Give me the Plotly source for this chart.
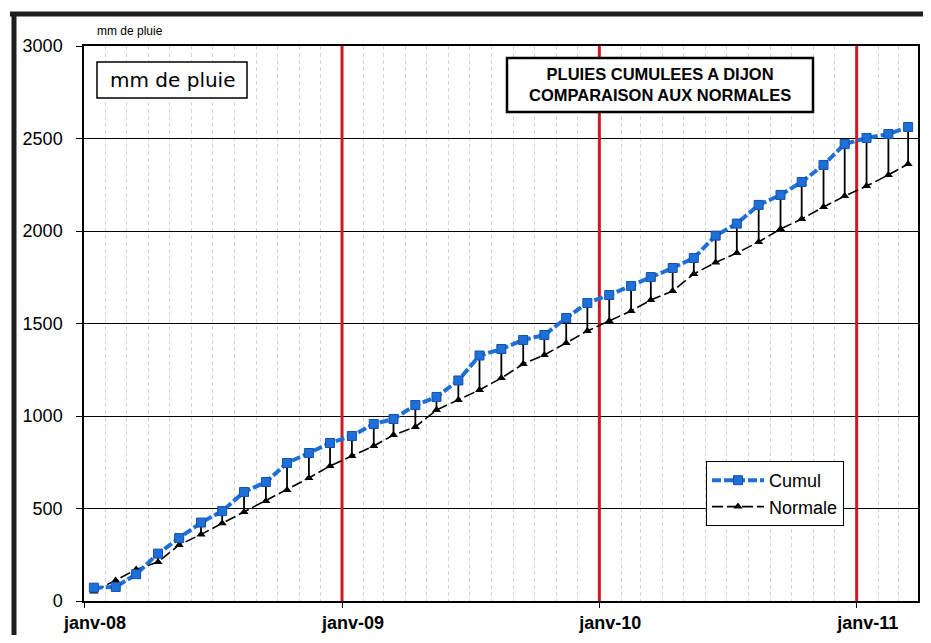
import pandas as pd
import plotly.graph_objects as go

# ---- data ----
months = pd.date_range("2008-01-01", "2011-03-01", freq="MS") + pd.Timedelta(days=14)

cumul = [72, 76, 145, 256, 340, 424, 486, 589, 643, 746, 800, 854,
         892, 957, 984, 1059, 1103, 1192, 1327, 1362, 1411, 1438, 1530, 1611,
         1654, 1703, 1751, 1800, 1854, 1975, 2040, 2141, 2195, 2265, 2357, 2470,
         2503, 2524, 2562]

normale = [51, 111, 170, 211, 303, 360, 420, 481, 540, 600, 665, 730,
           784, 838, 897, 941, 1032, 1086, 1141, 1205, 1281, 1330, 1395, 1459,
           1514, 1568, 1627, 1676, 1768, 1830, 1881, 1941, 2011, 2065, 2130, 2189,
           2243, 2303, 2362]

year_ticks = ["2008-01-01", "2009-01-01", "2010-01-01", "2011-01-01"]
year_labels = ["janv-08", "janv-09", "janv-10", "janv-11"]
red_years = ["2009-01-01", "2010-01-01", "2011-01-01"]
y_ticks = [0, 500, 1000, 1500, 2000, 2500, 3000]
y_min, y_max = 0, 3000

BLUE = "rgb(28,112,215)"
RED = "rgb(208,24,36)"
FONT = "Liberation Sans, Arial, sans-serif"

# page has an 8px body margin; plot area in page pixels: x 84..918, y 46..601
OFF = 8
FW, FH = 931 - 2 * OFF, 643 - 2 * OFF
L, R, T, B = 84, 918, 46, 601
def px(x):
    return (x - L) / (R - L)
def py(y):
    return (B - y) / (B - T)

fig = go.Figure()

# red vertical year lines
rx, ry = [], []
for d in red_years:
    rx += [d, d, None]
    ry += [y_min, y_max, None]
fig.add_trace(go.Scatter(x=rx, y=ry, mode="lines", line=dict(color=RED, width=3),
                         showlegend=False, hoverinfo="skip"))

# high-low (drop) lines between the two series
hx, hy = [], []
for d, c, n in zip(months, cumul, normale):
    hx += [d, d, None]
    hy += [c, n, None]
fig.add_trace(go.Scatter(x=hx, y=hy, mode="lines",
                         line=dict(color="black", width=1.8),
                         showlegend=False, hoverinfo="skip"))

fig.add_trace(go.Scatter(x=months, y=normale, mode="lines+markers", name="Normale",
                         line=dict(color="black", width=1.6, dash="11px,4px"),
                         marker=dict(symbol="triangle-up", size=8, color="black")))

fig.add_trace(go.Scatter(x=months, y=cumul, mode="lines+markers", name="Cumul",
                         line=dict(color=BLUE, width=4, dash="9px,3px"),
                         marker=dict(symbol="square", size=9, color=BLUE,
                                     line=dict(color="rgb(20,80,170)", width=1))))

shapes = [
    dict(type="rect", xref="paper", yref="paper",
         x0=px(97), x1=px(247), y0=py(98), y1=py(62),
         line=dict(color="black", width=1.5), fillcolor="white"),
    dict(type="rect", xref="paper", yref="paper",
         x0=px(507), x1=px(813), y0=py(112), y1=py(58),
         line=dict(color="black", width=2.5), fillcolor="white"),
    # outer frame of the scan
    dict(type="line", xref="paper", yref="paper",
         x0=px(10), x1=px(940), y0=py(14), y1=py(14),
         line=dict(color="rgb(30,30,30)", width=5)),
    dict(type="line", xref="paper", yref="paper",
         x0=px(14), x1=px(14), y0=py(12), y1=py(650),
         line=dict(color="rgb(30,30,30)", width=5)),
]

annotations = [
    dict(text="mm de pluie", xref="paper", yref="paper", x=px(95), y=py(31),
         xanchor="left", yanchor="middle", showarrow=False,
         font=dict(family=FONT, size=12, color="black")),
    dict(text="mm de pluie", xref="paper", yref="paper", x=px(172), y=py(80),
         xanchor="center", yanchor="middle", showarrow=False,
         font=dict(family="DejaVu Sans, sans-serif", size=20, color="black")),
    dict(text="<b>PLUIES CUMULEES A DIJON<br>COMPARAISON AUX NORMALES</b>",
         xref="paper", yref="paper", x=px(660), y=py(85),
         xanchor="center", yanchor="middle", showarrow=False,
         font=dict(family=FONT, size=16.5, color="black")),
]

fig.update_layout(
    width=FW, height=FH,
    margin=dict(l=L - OFF, r=(931 - OFF) - R, t=T - OFF, b=(643 - OFF) - B, pad=0,
                autoexpand=False),
    paper_bgcolor="white", plot_bgcolor="white",
    shapes=shapes, annotations=annotations,
    legend=dict(x=px(706), y=py(461), xanchor="left", yanchor="top",
                bordercolor="black", borderwidth=1, bgcolor="white",
                traceorder="reversed", itemwidth=52,
                font=dict(family=FONT, size=18, color="black"),
                tracegroupgap=2),
    showlegend=True,
)

fig.update_xaxes(
    type="date", range=["2008-01-01", "2011-03-29"],
    tickvals=year_ticks, ticktext=year_labels,
    tickfont=dict(family=FONT, size=18, color="black", weight="bold"),
    ticks="outside", ticklen=5, tickcolor="black",
    ticklabelshift=11, ticklabelstandoff=0, automargin=False,
    showgrid=False, showline=True, linecolor="black", linewidth=1.5, mirror=True,
    minor=dict(dtick="M1", tick0="2008-01-01", showgrid=True,
               gridcolor="rgb(212,212,212)", griddash="4px,3px", gridwidth=1),
    zeroline=False,
)
fig.update_yaxes(
    range=[y_min, y_max], tickvals=y_ticks,
    tickfont=dict(family=FONT, size=18, color="black"),
    ticks="outside", ticklen=6, tickcolor="black",
    ticklabelstandoff=10, automargin=False,
    showgrid=True, gridcolor="black", gridwidth=1.2,
    showline=True, linecolor="black", linewidth=1.5, mirror=True,
    zeroline=False,
)

fig.write_html("out.html")
